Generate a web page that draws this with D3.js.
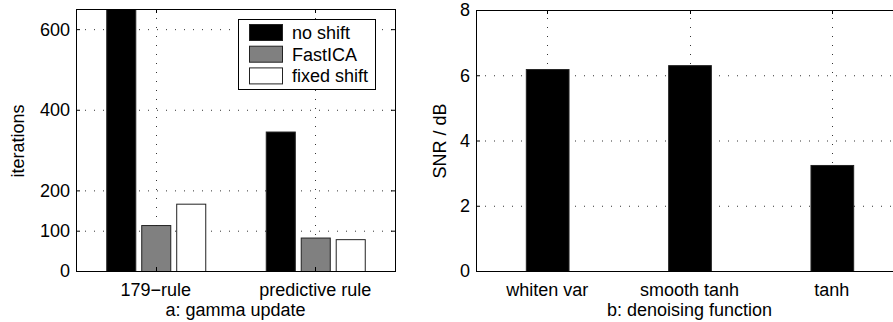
<!DOCTYPE html>
<html>
<head>
<meta charset="utf-8">
<script src="https://cdn.jsdelivr.net/npm/d3@7"></script>
<style>
  body { margin: 0; background: #fff; }
  text { font-family: "Liberation Sans", Arial, sans-serif; fill: #000; }
</style>
</head>
<body>
<div class="chart"></div>
<script>
// chart a: gamma update
var groupsA = ["179\u2212rule", "predictive rule"];
var seriesA = ["no shift", "FastICA", "fixed shift"];
var noShift = [720, 346];
var fastICA = [114, 83];
var fixedShift = [167, 79];
var yTicksA = [0, 100, 200, 400, 600];

// chart b: denoising function
var groupsB = ["whiten var", "smooth tanh", "tanh"];
var snr = [6.19, 6.31, 3.25];
var yTicksB = [0, 2, 4, 6, 8];

var svgWidth = 893, svgHeight = 322;
var fontSize = 18;
var fills = ["#000000", "#808080", "#ffffff"];

var svg = d3.select(".chart").append("svg")
  .attr("width", svgWidth)
  .attr("height", svgHeight);

function grid(g, x, y, xs, ys, x0, x1, y0, y1) {
  g.selectAll(".hgrid").data(ys).enter().append("line")
    .attr("x1", x0).attr("x2", x1)
    .attr("y1", d => y(d) + 0.5).attr("y2", d => y(d) + 0.5)
    .attr("stroke", "#333").attr("stroke-dasharray", "1,8");
  g.selectAll(".vgrid").data(xs).enter().append("line")
    .attr("x1", d => Math.round(d) + 0.5).attr("x2", d => Math.round(d) + 0.5)
    .attr("y1", y0).attr("y2", y1)
    .attr("stroke", "#333").attr("stroke-dasharray", "1,8");
}

function frame(g, xTickPos, yTickPos, x0, x1, y0, y1) {
  var t = 4;
  g.append("rect").attr("x", x0 + 0.5).attr("y", y1 + 0.5)
    .attr("width", x1 - x0).attr("height", y0 - y1)
    .attr("fill", "none").attr("stroke", "#000");
  // inward ticks on all four sides
  xTickPos.forEach(function(px) {
    px = Math.round(px) + 0.5;
    g.append("line").attr("x1", px).attr("x2", px).attr("y1", y0).attr("y2", y0 - t).attr("stroke", "#000");
    g.append("line").attr("x1", px).attr("x2", px).attr("y1", y1).attr("y2", y1 + t).attr("stroke", "#000");
  });
  yTickPos.forEach(function(py) {
    py = py + 0.5;
    g.append("line").attr("x1", x0).attr("x2", x0 + t).attr("y1", py).attr("y2", py).attr("stroke", "#000");
    g.append("line").attr("x1", x1).attr("x2", x1 - t).attr("y1", py).attr("y2", py).attr("stroke", "#000");
  });
}

// ---------- chart a ----------
var ax0 = 76, ax1 = 395, ay0 = 271, ay1 = 9;
var xA = d3.scaleBand().domain(groupsA).range([ax0, ax1]).padding(0);
var xInner = d3.scaleBand().domain(seriesA).range([-49.5, 49.5]).paddingInner(0.17);
var yA = d3.scaleLinear().domain([0, 650]).range([ay0, ay1]);

var gA = svg.append("g");
var centersA = groupsA.map(d => xA(d) + xA.bandwidth() / 2);
grid(gA, xA, yA, centersA, yTicksA.filter(d => d > 0), ax0, ax1, ay0, ay1);

svg.append("clipPath").attr("id", "clipA").append("rect")
  .attr("x", ax0).attr("y", ay1).attr("width", ax1 - ax0).attr("height", ay0 - ay1);

var tableA = [];
groupsA.forEach(function(grp, i) {
  [noShift, fastICA, fixedShift].forEach(function(vals, j) {
    tableA.push({ group: grp, series: seriesA[j], value: vals[i], fill: fills[j] });
  });
});

gA.append("g").attr("clip-path", "url(#clipA)")
  .selectAll("rect").data(tableA).enter().append("rect")
  .attr("x", d => xA(d.group) + xA.bandwidth() / 2 + xInner(d.series) + 0.5)
  .attr("width", xInner.bandwidth())
  .attr("y", d => yA(d.value) + 0.5)
  .attr("height", d => yA(0) - yA(d.value))
  .attr("fill", d => d.fill)
  .attr("stroke", "#222");

frame(gA, centersA, yTicksA.map(d => yA(d)), ax0, ax1, ay0, ay1);

gA.selectAll(".ylab").data(yTicksA).enter().append("text")
  .attr("x", ax0 - 6).attr("y", d => yA(d)).attr("dy", "0.36em")
  .attr("text-anchor", "end").attr("font-size", fontSize).text(d => d);
gA.selectAll(".xlab").data(groupsA).enter().append("text")
  .attr("x", d => xA(d) + xA.bandwidth() / 2).attr("y", 296)
  .attr("text-anchor", "middle").attr("font-size", fontSize).text(d => d);
gA.append("text").attr("x", (ax0 + ax1) / 2).attr("y", 316)
  .attr("text-anchor", "middle").attr("font-size", fontSize).text("a: gamma update");
gA.append("text").attr("transform", "translate(24," + 141 + ") rotate(-90)")
  .attr("text-anchor", "middle").attr("font-size", fontSize).text("iterations");

// legend
var leg = gA.append("g");
leg.append("rect").attr("x", 238.5).attr("y", 19.5).attr("width", 137).attr("height", 70)
  .attr("fill", "#fff").attr("stroke", "#000");
seriesA.forEach(function(s, j) {
  leg.append("rect").attr("x", 249.5).attr("y", 24.5 + j * 21.7).attr("width", 33).attr("height", 16)
    .attr("fill", fills[j]).attr("stroke", "#222");
  leg.append("text").attr("x", 292).attr("y", 32.5 + j * 21.7).attr("dy", "0.36em")
    .attr("font-size", fontSize).text(s);
});

// ---------- chart b ----------
var bx0 = 476, bx1 = 903, by0 = 271, by1 = 10;
var xB = d3.scaleBand().domain(groupsB).range([bx0, bx1]).paddingInner(0.7).paddingOuter(0.35);
var yB = d3.scaleLinear().domain([0, 8]).range([by0, by1]);
var gB = svg.append("g");
var centersB = groupsB.map(d => xB(d) + xB.bandwidth() / 2);
grid(gB, xB, yB, centersB, yTicksB.filter(d => d > 0 && d < 8), bx0, bx1, by0, by1);

gB.selectAll("rect.bar").data(groupsB).enter().append("rect")
  .attr("class", "bar")
  .attr("x", d => xB(d) + 0.5)
  .attr("width", xB.bandwidth())
  .attr("y", (d, i) => yB(snr[i]) + 0.5)
  .attr("height", (d, i) => yB(0) - yB(snr[i]))
  .attr("fill", "#000").attr("stroke", "#222");

frame(gB, centersB, yTicksB.map(d => yB(d)), bx0, bx1, by0, by1);

gB.selectAll(".ylab").data(yTicksB).enter().append("text")
  .attr("x", bx0 - 6).attr("y", d => yB(d)).attr("dy", "0.36em")
  .attr("text-anchor", "end").attr("font-size", fontSize).text(d => d);
gB.selectAll(".xlab").data(groupsB).enter().append("text")
  .attr("x", d => xB(d) + xB.bandwidth() / 2).attr("y", 296)
  .attr("text-anchor", "middle").attr("font-size", fontSize).text(d => d);
gB.append("text").attr("x", 689.5).attr("y", 316)
  .attr("text-anchor", "middle").attr("font-size", fontSize).text("b: denoising function");
gB.append("text").attr("transform", "translate(446," + 141 + ") rotate(-90)")
  .attr("text-anchor", "middle").attr("font-size", fontSize).text("SNR / dB");
</script>
</body>
</html>
